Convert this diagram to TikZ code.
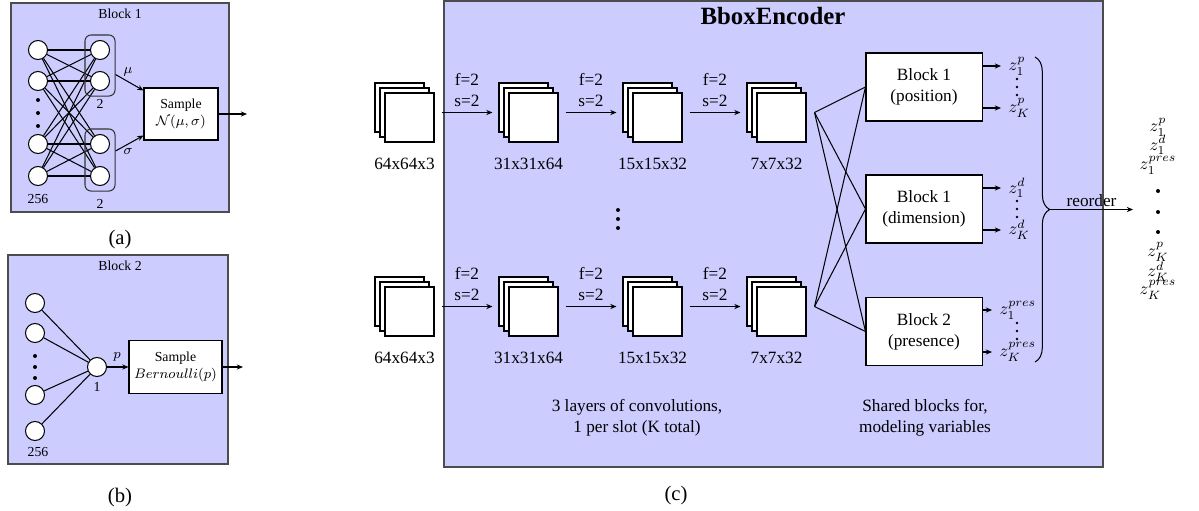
\documentclass[tikz,border=0pt]{standalone}
\usepackage{fontspec}
\setmainfont{Liberation Serif}
\usetikzlibrary{arrows.meta,decorations.pathreplacing,calc,fit}
\def\pxu{0.58pt}
% a stack of three feature maps; #1 names the front sheet, (#2,#3) is its centre
\newcommand\fmapstack[3]{%
  \node[fmap] (#1c) at ({#2-10},{#3-10}) {};
  \node[fmap] (#1b) at ({#2-5},{#3-5}) {};
  \node[fmap] (#1) at (#2,#3) {};
}
\begin{document}
\begin{tikzpicture}[x=0.58pt, y=-0.58pt, line width=0.6pt,
  panel/.style={draw=black!70, fill=blue!20, line width=0.8pt},
  neuron/.style={circle, draw, fill=white, minimum size=19*\pxu, inner sep=0pt},
  fmap/.style={draw, fill=white, minimum size=49*\pxu, inner sep=0pt},
  blk/.style={draw, fill=white, minimum width=116*\pxu, minimum height=68*\pxu, align=center, inner sep=1pt},
  sampler/.style={draw, fill=white, align=center, font=\footnotesize, inner sep=1pt},
  group/.style={draw=black!80, rounded corners=3.5pt, inner sep=5*\pxu},
  arr/.style={-{Stealth[length=3.6pt,width=3pt]}},
  small/.style={font=\footnotesize},
  caption/.style={font=\large},
  zvar/.style={inner sep=0pt},
]
\useasboundingbox (0,0) rectangle (1199,510);

% ---------- (a) Block 1: Gaussian sampling ----------
\draw[panel] (11,3) rectangle (229,212);
\node[small] (ta) at (120,14) {Block 1};
\foreach \y [count=\i] in {50,81,144,176} {
  \node[neuron] (ai\i) at (38,\y) {};
  \node[neuron] (ao\i) at (100,\y) {};
}
\foreach \i in {1,...,4} \foreach \j in {1,...,4} \draw (ai\i) -- (ao\j);
\foreach \y in {100,113,126} \fill (38,\y) circle (2);
\node[group, fit=(ao1)(ao2)] (g1) {};
\node[group, fit=(ao3)(ao4)] (g2) {};
\node[small, inner sep=0pt] (n2a) at (100,104) {2};
\node[small, inner sep=0pt] (n2b) at (100,204) {2};
\node[small] (n256a) at (38,199) {256};
\node[sampler, minimum width=74*\pxu, minimum height=52*\pxu] (sa) at (181,114) {Sample\\$\mathcal{N}(\mu,\sigma)$};
\draw[arr] ($(g1.east)+(0,9)$) -- ($(sa.north west)+(0,3)$);
\draw[arr] ($(g2.east)+(0,-9)$) -- ($(sa.south west)+(0,-5)$);
\node[small] (mu) at (128,72) {$\mu$};
\node[small] (sg) at (128,152) {$\sigma$};
\coordinate (aout) at (247,114);
\draw[arr] (sa.east) -- (sa.east -| aout);
\node[caption] (capa) at (120,240) {(a)};

% ---------- (b) Block 2: Bernoulli sampling ----------
\draw[panel] (8,255) rectangle (228,464);
\node[small] (tb) at (120,266) {Block 2};
\foreach \y [count=\i] in {303,333,395,431} \node[neuron] (bi\i) at (35,\y) {};
\node[neuron] (bm) at (97,367) {};
\foreach \i in {1,...,4} \draw (bi\i) -- (bm);
\foreach \y in {356,367,378} \fill (35,\y) circle (2);
\node[small] (n256b) at (38,452) {256};
\node[small] (n1) at (97,387) {1};
\node[sampler, minimum width=93*\pxu, minimum height=53*\pxu] (sb) at (175.5,367) {Sample\\$Bernoulli(p)$};
\draw[arr] (bm) -- (bm -| sb.west);
\node[small] (pl) at (117,357) {$p$};
\coordinate (bout) at (243,367);
\draw[arr] (sb.east) -- (sb.east -| bout);
\node[caption] (capb) at (120,498) {(b)};

% ---------- (c) BboxEncoder ----------
\draw[panel] (444,1) rectangle (1103,467);
\node[font=\Large\bfseries] (tc) at (773,16) {BboxEncoder};

\foreach \r/\y in {1/117.5,2/311.5} {
  \fmapstack{s\r1}{409.5}{\y}
  \fmapstack{s\r2}{533.5}{\y}
  \fmapstack{s\r3}{657.5}{\y}
  \fmapstack{s\r4}{781.5}{\y}
  \node (l\r1) at ($(s\r1.south)+(-5,21)$) {64x64x3};
  \node (l\r2) at ($(s\r2.south)+(-5,21)$) {31x31x64};
  \node (l\r3) at ($(s\r3.south)+(-5,21)$) {15x15x32};
  \node (l\r4) at ($(s\r4.south)+(-5,21)$) {7x7x32};
}
\foreach \r in {1,2} \foreach \c/\n in {1/2,2/3,3/4}
  \draw[arr] ($(s\r\c.east)+(7,-5)$) -- ($(s\r\n.west)+(-16,-5)$)
    node[midway, above, align=center] (fs\r\c) {f=2\\s=2};
\foreach \y in {210,219,228} \fill (618,\y) circle (2);
\node[align=center] (convtxt) at (637,418) {3 layers of convolutions,\\1 per slot (K total)};

\node[blk] (bp) at (924,87) {Block 1\\(position)};
\node[blk] (bd) at (924,209) {Block 1\\(dimension)};
\node[blk] (bq) at (924,331.5) {Block 2\\(presence)};
\coordinate (j1) at ($(s14.east)+(8,-5)$);
\coordinate (j2) at ($(s24.east)+(8,-5)$);
\foreach \j in {j1,j2} \foreach \b in {bp,bd,bq} \draw (\j) -- (\b.west);

\node[zvar, anchor=west] (zp1) at (1008,66) {$z_1^p$};
\node[zvar, anchor=west] (zpK) at (1008,108) {$z_K^p$};
\node[zvar, anchor=west] (zd1) at (1008,188) {$z_1^d$};
\node[zvar, anchor=west] (zdK) at (1008,230) {$z_K^d$};
\node[zvar, anchor=west] (zq1) at (999,310) {$z_1^{pres}$};
\node[zvar, anchor=west] (zqK) at (999,352) {$z_K^{pres}$};
\foreach \b/\z in {bp/zp1,bp/zpK,bd/zd1,bd/zdK,bq/zq1,bq/zqK}
  \draw[arr] (\b.east |- \z.west) -- ($(\z.west)+(-7,0)$);
\foreach \y in {79,87,95,201,209,217,323,331,339} \fill (1017,\y) circle (1.3);
\node[align=center] (sharedtxt) at (925,418) {Shared blocks for,\\modeling variables};

\draw[decorate, decoration={brace, amplitude=8.5pt}] (1035,57) -- (1035,362);
\coordinate (btip) at (1050,209.5);
\coordinate (rout) at (1133,209.5);
\draw[arr] (btip) -- (rout) node[midway, above, inner sep=1.5pt] (reo) {reorder};

\node[zvar] (o1) at (1158,127) {$z_1^p$};
\node[zvar] (o2) at (1158,145) {$z_1^d$};
\node[zvar] (o3) at (1158,165) {$z_1^{pres}$};
\foreach \y in {191,212,232} \fill (1158,\y) circle (2);
\node[zvar] (o4) at (1158,252) {$z_K^p$};
\node[zvar] (o5) at (1158,272) {$z_K^d$};
\node[zvar] (o6) at (1158,290) {$z_K^{pres}$};

\node[caption] (capc) at (676,496) {(c)};
\end{tikzpicture}
\end{document}
